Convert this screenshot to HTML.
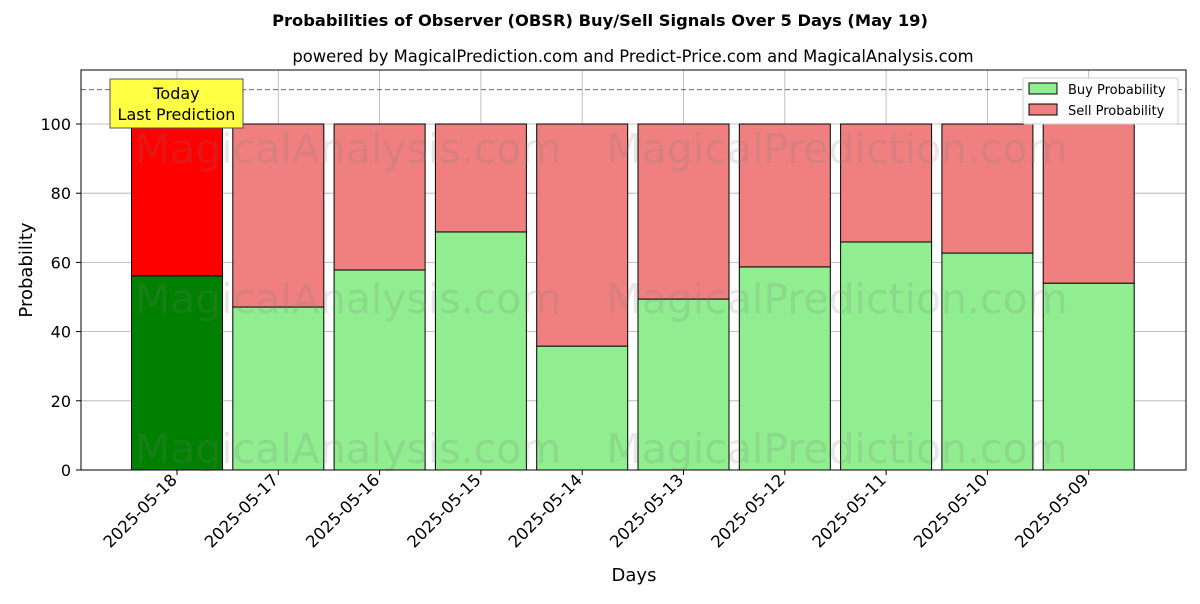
<!DOCTYPE html>
<html><head><meta charset="utf-8"><style>
body{margin:0;background:#fff;font-family:"DejaVu Sans","Liberation Sans",sans-serif}
</style></head><body>
<svg id="c" width="1200" height="600" xmlns="http://www.w3.org/2000/svg" font-family="DejaVu Sans, Liberation Sans, sans-serif">
<text x="600" y="26" text-anchor="middle" font-size="16.3" font-weight="bold">Probabilities of Observer (OBSR) Buy/Sell Signals Over 5 Days (May 19)</text>
<text x="633" y="62" text-anchor="middle" font-size="16.4">powered by MagicalPrediction.com and Predict-Price.com and MagicalAnalysis.com</text>
<g id="grid"></g>
<g id="bars"></g>
<g id="wm" font-size="41" fill="rgba(120,120,120,0.18)">
<text x="348" y="163" text-anchor="middle">MagicalAnalysis.com</text>
<text x="837" y="163" text-anchor="middle">MagicalPrediction.com</text>
<text x="348" y="313" text-anchor="middle">MagicalAnalysis.com</text>
<text x="837" y="313" text-anchor="middle">MagicalPrediction.com</text>
<text x="348" y="463" text-anchor="middle">MagicalAnalysis.com</text>
<text x="837" y="463" text-anchor="middle">MagicalPrediction.com</text>
</g>
<line x1="81" x2="1186" y1="89.6" y2="89.6" stroke="#666" stroke-dasharray="5,3"/>
<rect x="81" y="70" width="1105" height="400" fill="none" stroke="#000"/>
<g id="axes"></g>
<g>
<rect x="110" y="79" width="133" height="49" fill="#ffff44" stroke="#555"/>
<text x="176.5" y="99" text-anchor="middle" font-size="16">Today</text>
<text x="176.5" y="120" text-anchor="middle" font-size="16">Last Prediction</text>
</g>
<g>
<rect x="1023" y="78" width="155" height="46" fill="#fff" stroke="#ccc" rx="2"/>
<rect x="1029" y="83" width="28" height="11" fill="#90ee90" stroke="#000"/>
<text x="1068" y="94" font-size="13">Buy Probability</text>
<rect x="1029" y="104" width="28" height="11" fill="#f08080" stroke="#000"/>
<text x="1068" y="115" font-size="13">Sell Probability</text>
</g>
<text x="634" y="581" text-anchor="middle" font-size="18">Days</text>
<text transform="translate(32,270) rotate(-90)" text-anchor="middle" font-size="18">Probability</text>
</svg>
<script>
const categories=["2025-05-18","2025-05-17","2025-05-16","2025-05-15","2025-05-14","2025-05-13","2025-05-12","2025-05-11","2025-05-10","2025-05-09"];
const buyValues=[56.1,47.1,57.8,68.8,35.8,49.4,58.7,65.9,62.7,54.0];
const yTicks=[0,20,40,60,80,100];
const NS="http://www.w3.org/2000/svg";
const y=v=>470-v*3.46;
const x=i=>177+i*101.3;
const bw=91;
function mk(t,a,p){const e=document.createElementNS(NS,t);for(const k in a)e.setAttribute(k,a[k]);p.appendChild(e);return e;}
const grid=document.getElementById('grid'),bars=document.getElementById('bars'),axes=document.getElementById('axes');
yTicks.forEach(t=>{
 const g=mk('line',{x1:81,x2:1186,y1:y(t),y2:y(t),stroke:'#b0b0b0','stroke-width':0.8},grid);
 
 
 mk('line',{x1:76,x2:81,y1:y(t),y2:y(t),stroke:'#000'},axes);
 const l=mk('text',{x:71,y:y(t)+6,'text-anchor':'end','font-size':16},axes);l.textContent=t;
 
 
});
categories.forEach((c,i)=>{
 const cx=x(i);
 const gl=mk('line',{x1:cx,x2:cx,y1:70,y2:470,stroke:'#b0b0b0','stroke-width':0.8},grid);
 
 
 const b=buyValues[i];
 const rb=mk('rect',{x:cx-bw/2,y:y(b),width:bw,height:y(0)-y(b),fill:i==0?'#008000':'#90ee90',stroke:'#000'},bars);
 
 
 const rs=mk('rect',{x:cx-bw/2,y:y(100),width:bw,height:y(b)-y(100),fill:i==0?'#ff0000':'#f08080',stroke:'#000'},bars);
 
 
 mk('line',{x1:cx,x2:cx,y1:470,y2:475,stroke:'#000'},axes);
 const t=mk('text',{transform:`translate(${cx+1},${481}) rotate(-45)`,'text-anchor':'end','font-size':16.5},axes);t.textContent=c;
 
 
});
</script>
</body></html>
